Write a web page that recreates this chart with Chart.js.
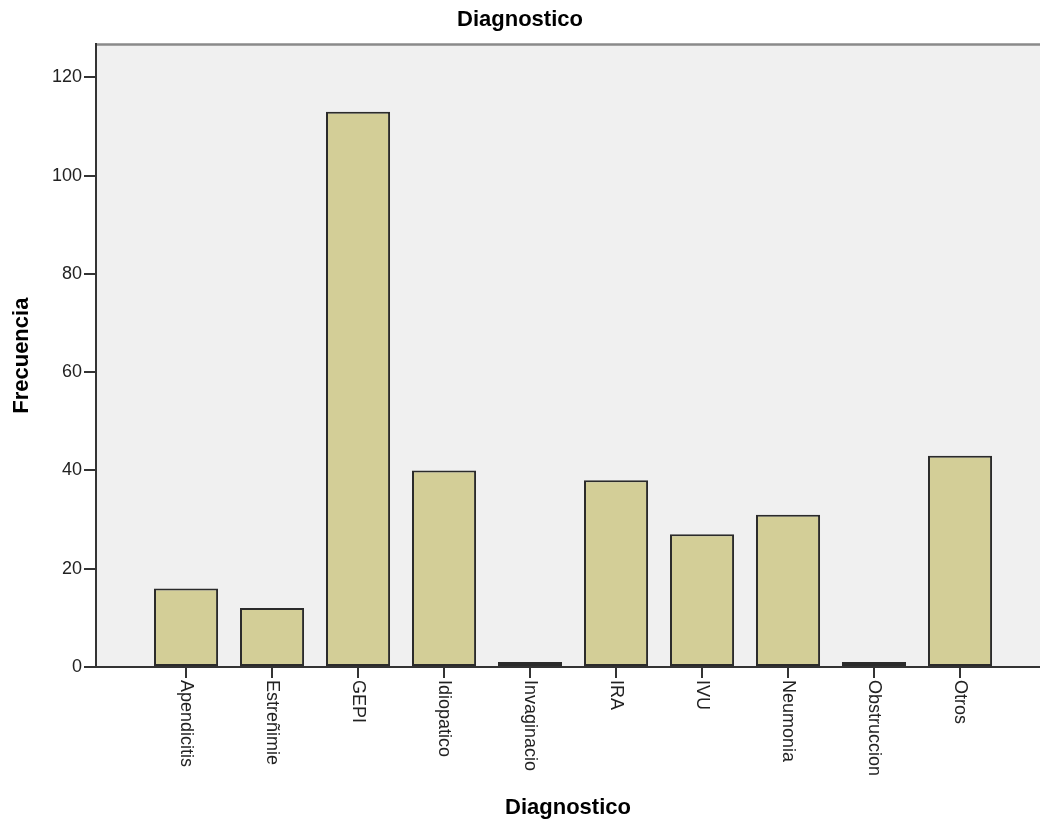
<!DOCTYPE html>
<html>
<head>
<meta charset="utf-8">
<script src="https://cdn.jsdelivr.net/npm/chart.js@4"></script>
<style>
  html, body { margin: 0; padding: 0; background: #fff; overflow: hidden; }
  #wrap { width: 1040px; height: 824px; position: relative; }
</style>
</head>
<body>
<div id="wrap"><canvas id="grafico"></canvas></div>
<script>
// datos del grafico (frecuencias por diagnostico)
const categorias = ["Apendicitis", "Estreñimie", "GEPI", "Idiopatico", "Invaginacio", "IRA", "IVU", "Neumonia", "Obstruccion", "Otros"];
const frecuencias = [16, 12, 113, 40, 1, 38, 27, 31, 1, 43];
const ticksY = [0, 20, 40, 60, 80, 100, 120];

const fuente = "'Liberation Sans', Arial, sans-serif";

// fondo gris del area del grafico + linea superior
const fondoPlot = {
    id: "fondoPlot",
    beforeDraw(chart) {
        const { ctx, chartArea: a } = chart;
        ctx.save();
        ctx.fillStyle = "#f0f0f0";
        ctx.fillRect(a.left, a.top, a.right - a.left, a.bottom - a.top);
        ctx.strokeStyle = "#8a8a8a";
        ctx.lineWidth = 2.5;
        ctx.beginPath();
        ctx.moveTo(a.left, a.top);
        ctx.lineTo(a.right, a.top);
        ctx.stroke();
        ctx.restore();
    }
};

// etiquetas del eje X giradas hacia abajo (como SPSS)
const etiquetasX = {
    id: "etiquetasX",
    afterDraw(chart) {
        const { ctx } = chart;
        const sx = chart.scales.x;
        ctx.save();
        ctx.font = "18px " + fuente;
        ctx.fillStyle = "#222";
        ctx.textAlign = "left";
        ctx.textBaseline = "middle";
        categorias.forEach((cat, i) => {
            const x = sx.getPixelForValue(i);
            ctx.save();
            ctx.translate(x, sx.top + 13);
            ctx.rotate(Math.PI / 2);
            ctx.fillText(cat, 0, 0);
            ctx.restore();
        });
        ctx.restore();
    }
};

const ctx = document.getElementById("grafico").getContext("2d");

new Chart(ctx, {
    type: "bar",
    data: {
        datasets: [{
            label: "Frecuencia",
            data: frecuencias.map((v, i) => ({ x: i, y: v })),
            backgroundColor: "#d3ce97",
            borderColor: "#2b2b2b",
            borderWidth: 2,
            borderSkipped: false,
            barPercentage: 0.745,
            categoryPercentage: 1
        }]
    },
    options: {
        responsive: true,
        maintainAspectRatio: false,
        animation: false,
        layout: { padding: 0 },
        plugins: {
            legend: { display: false },
            tooltip: { enabled: false },
            title: {
                display: true,
                text: "Diagnostico",
                color: "#000",
                font: { family: fuente, size: 22, weight: "bold" },
                padding: { top: 7, bottom: 11 }
            }
        },
        scales: {
            x: {
                type: "linear",
                offset: false,
                min: -1.047,
                max: 9.93,
                afterBuildTicks: s => {
                    s.ticks = categorias.map((c, i) => ({ value: i }));
                },
                afterFit: s => { s.height = 157; },
                ticks: { display: false },
                grid: { offset: false, drawOnChartArea: false, tickLength: 11, color: "#333", lineWidth: 2 },
                border: { display: true, color: "#333", width: 2 },
                title: {
                    display: true,
                    text: "Diagnostico",
                    color: "#000",
                    font: { family: fuente, size: 22, weight: "bold" },
                    padding: { top: 0, bottom: 3 }
                }
            },
            y: {
                min: 0,
                max: 126.7,
                afterBuildTicks: s => {
                    s.ticks = ticksY.map(v => ({ value: v }));
                },
                afterFit: s => { s.width = 96; },
                ticks: {
                    color: "#222",
                    padding: 2,
                    font: { family: fuente, size: 18 }
                },
                grid: { drawOnChartArea: false, tickLength: 12, color: "#333", lineWidth: 2 },
                border: { display: true, color: "#333", width: 2 },
                title: {
                    display: true,
                    text: "Frecuencia",
                    color: "#000",
                    font: { family: fuente, size: 22, weight: "bold" },
                    padding: { top: 9, bottom: 0 }
                }
            }
        }
    },
    plugins: [fondoPlot, etiquetasX]
});
</script>
</body>
</html>
